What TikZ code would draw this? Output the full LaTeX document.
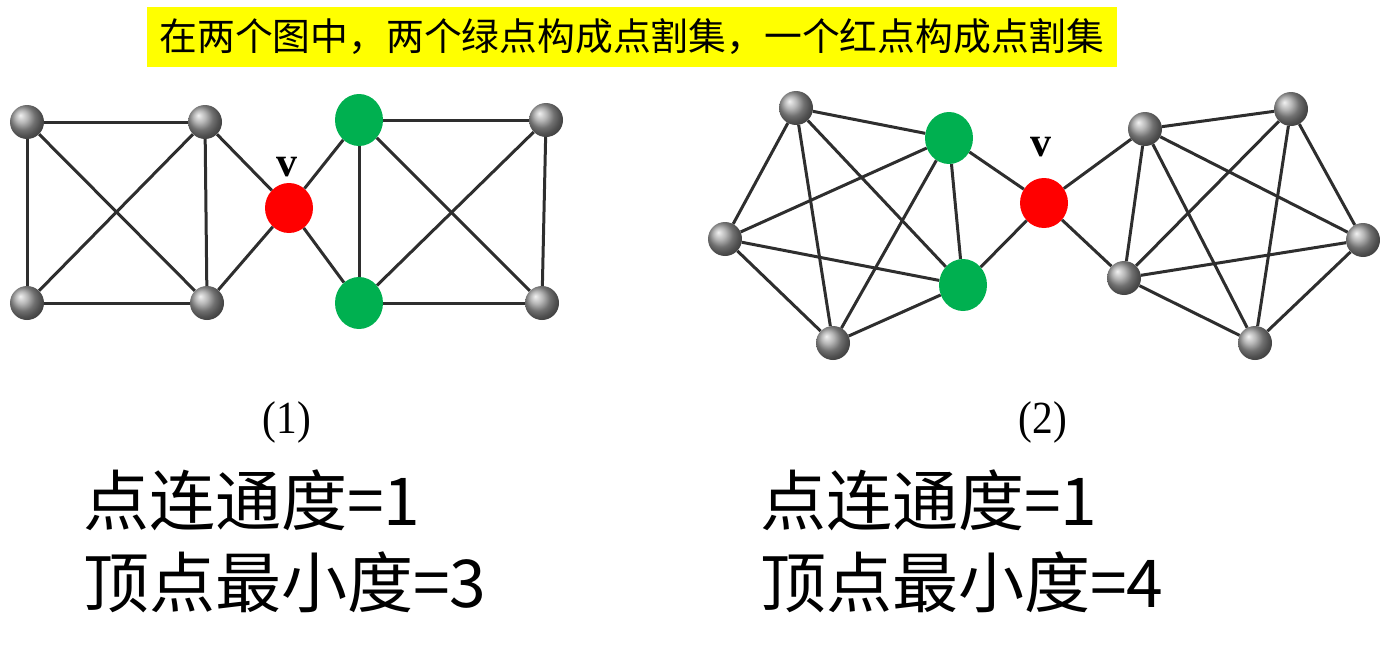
\documentclass[tikz,border=0pt]{standalone}
\usepackage{fontspec}
\newfontfamily\cjk{Noto Sans CJK SC}
\newfontfamily\tms{Liberation Serif}
\usetikzlibrary{shapes.geometric,shadings}
\definecolor{pgreen}{HTML}{00B050}
\definecolor{pred}{HTML}{FF0000}
\definecolor{pyellow}{HTML}{FFFF00}
\definecolor{edgec}{HTML}{2E2E2E}
\begin{document}
\begin{tikzpicture}[x=1pt,y=-1pt,
  gball/.style={circle,minimum size=34pt,inner sep=0pt,shading=ball,ball color=gray!75},
  rdot/.style={ellipse,minimum width=48pt,minimum height=50pt,inner sep=0pt,fill=pred},
  gdot/.style={ellipse,minimum width=48pt,minimum height=52pt,inner sep=0pt,fill=pgreen},
  link/.style={draw=edgec,line width=3pt},
  vlab/.style={font=\tms\bfseries\fontsize{42}{42}\selectfont,inner sep=0pt},
  captext/.style={font=\tms\fontsize{46}{46}\selectfont,inner sep=0pt,xscale=0.9},
  big/.style={font=\cjk\fontsize{66}{66}\selectfont,anchor=west,inner sep=0pt}
]
\useasboundingbox (0,0) rectangle (1388,661);
% title
\node[fill=pyellow,minimum width=970pt,minimum height=60pt,inner sep=0pt,
  font=\cjk\fontsize{37.8}{37.8}\selectfont] (title) at (632,37)
  {在两个图中，两个绿点构成点割集，一个红点构成点割集};
% graph 1
\node[gball] (a1) at (27,122) {};
\node[gball] (a2) at (205,122) {};
\node[gball] (a3) at (27,303) {};
\node[gball] (a4) at (207,303) {};
\node[rdot] (v1) at (289,208) {};
\node[gdot] (g1) at (359,120) {};
\node[gdot] (g2) at (359,303) {};
\node[gball] (a5) at (546,120) {};
\node[gball] (a6) at (542,303) {};
\node[vlab] (lv1) at (287,167) {v};
\foreach \p/\q in {a1/a2,a1/a3,a1/a4,a2/a3,a2/a4,a3/a4,a2/v1,a4/v1,v1/g1,v1/g2,
  g1/a5,g1/g2,g1/a6,g2/a5,g2/a6,a5/a6}
  \draw[link] (\p) -- (\q);
% graph 2
\node[gball] (A) at (796,108) {};
\node[gdot] (G1) at (949,138) {};
\node[gball] (B) at (725,239) {};
\node[gdot] (G2) at (963,285) {};
\node[gball] (C) at (833,343) {};
\node[rdot] (v2) at (1044,203) {};
\node[gball] (D) at (1145,129) {};
\node[gball] (E) at (1291,109) {};
\node[gball] (F) at (1363,240) {};
\node[gball] (H) at (1124,278) {};
\node[gball] (I) at (1255,343) {};
\node[vlab] (lv2) at (1041,147) {v};
\foreach \p/\q in {A/G1,A/B,A/C,A/G2,G1/B,G1/C,G1/G2,B/G2,B/C,C/G2,G1/v2,G2/v2,
  v2/D,v2/H,D/E,D/F,D/H,D/I,E/H,E/F,E/I,H/F,H/I,F/I}
  \draw[link] (\p) -- (\q);
% captions
\node[captext] (c1) at (287,422) {(1)};
\node[captext] (c2) at (1043,422) {(2)};
\node[big] (t1) at (83,500) {点连通度=1};
\node[big] (t2) at (83,582) {顶点最小度=3};
\node[big] (t3) at (760,500) {点连通度=1};
\node[big] (t4) at (760,582) {顶点最小度=4};
\end{tikzpicture}
\end{document}
